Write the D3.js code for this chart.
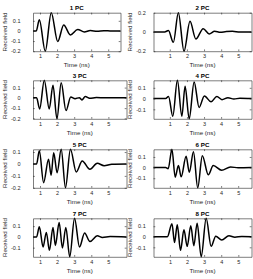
<!DOCTYPE html>
<html>
<head>
<meta charset="utf-8">
<script src="https://cdn.jsdelivr.net/npm/d3@7"></script>
<style>
  body { margin: 0; background: #fff; }
  svg { display: block; font-family: "Liberation Sans", Arial, sans-serif; }
</style>
</head>
<body>
<svg id="chart" width="253" height="279"></svg>
<script>
// panel titles and axis tick labels
const titles = ['1 PC', '2 PC', '3 PC', '4 PC', '5 PC', '6 PC', '7 PC', '8 PC'];
const xTicks = [1, 2, 3, 4, 5];
const yTicks = [
  [0.1, 0, -0.1, -0.2],
  [0.2, 0, -0.2],
  [0.1, 0, -0.1, -0.2],
  [0.1, 0, -0.1],
  [0.1, 0, -0.1, -0.2],
  [0.1, 0, -0.1],
  [0.1, 0, -0.1],
  [0.1, 0, -0.1]
];
// time window of each panel (ns)
const timeRanges = [
  [0.59, 5.72], [0.05, 5.77],
  [0.59, 6.06], [0.04, 5.78],
  [0.59, 6.06], [0.04, 5.78],
  [0.59, 6.06], [0.04, 5.77]
];

// received field (time in ns, field)
const pc1Time  = [0.59, 0.78, 0.96, 1.31, 1.66, 2.04, 2.39, 2.78, 3.21, 3.6, 3.95, 4.35, 4.75, 5.2, 5.72];
const pc1Field = [0, 0, 0.11, -0.2, 0.18, -0.105, 0.059, -0.039, 0.015, -0.01, 0.004, -0.003, 0.003, -0.001, 0];

const pc2Time  = [0.05, 0.7, 0.92, 1.21, 1.5, 1.83, 2.18, 2.52, 2.95, 3.3, 3.62, 3.95, 4.3, 4.65, 5.1, 5.77];
const pc2Field = [0, 0, 0.015, -0.108, 0.2, -0.2, 0.11, -0.073, 0.034, -0.02, 0.008, -0.004, 0.004, 0.006, 0, 0];

const pc3Time  = [0.59, 0.8, 0.98, 1.25, 1.54, 1.76, 1.99, 2.24, 2.52, 2.8, 3.05, 3.3, 3.45, 3.65, 3.9, 4.3, 4.8, 5.3, 6.06];
const pc3Field = [0, 0, -0.108, 0.171, -0.108, 0.124, -0.204, 0.146, -0.124, 0.008, -0.008, 0.002, -0.02, 0.012, -0.004, 0.003, 0, 0.002, 0];

const pc4Time  = [0.04, 0.75, 0.92, 1.17, 1.44, 1.7, 1.89, 2.13, 2.42, 2.71, 3.02, 3.41, 3.75, 4.05, 4.4, 4.75, 5.1, 5.78];
const pc4Field = [0, 0, 0.02, -0.164, 0.17, -0.164, 0.115, -0.188, 0.155, -0.082, 0.025, -0.03, 0.02, -0.01, 0.008, -0.004, 0.003, 0];

const pc5Time  = [0.59, 0.8, 0.96, 1.21, 1.5, 1.65, 1.8, 2.0, 2.24, 2.49, 2.78, 3.12, 3.47, 3.92, 4.35, 4.75, 5.2, 6.06];
const pc5Field = [0, 0, 0.11, -0.157, 0.04, -0.095, 0.095, -0.073, 0.123, -0.2, 0.123, -0.067, 0.025, -0.045, 0.006, -0.015, -0.002, 0];

const pc6Time  = [0.04, 0.75, 0.9, 1.12, 1.31, 1.5, 1.66, 1.95, 2.14, 2.38, 2.63, 2.9, 3.25, 3.54, 4.03, 4.55, 5.0, 5.78];
const pc6Field = [0, 0, -0.01, 0.172, -0.09, 0.019, -0.087, 0.106, -0.044, 0.15, -0.19, 0.112, -0.068, 0.019, -0.025, 0.006, -0.002, 0];

const pc7Time  = [0.59, 0.8, 0.96, 1.18, 1.37, 1.55, 1.76, 1.9, 2.12, 2.31, 2.51, 2.74, 3.02, 3.31, 3.61, 3.92, 4.35, 4.65, 5.1, 6.06];
const pc7Field = [0, 0, 0.094, -0.094, 0.042, -0.125, 0.088, -0.079, 0.133, -0.103, 0.088, -0.185, 0.173, -0.094, 0.036, -0.043, 0.01, -0.005, 0.003, 0];

const pc8Time  = [0.04, 0.85, 1.12, 1.27, 1.43, 1.62, 1.82, 2.01, 2.22, 2.4, 2.59, 2.83, 3.12, 3.41, 3.68, 4.03, 4.45, 4.8, 5.2, 5.77];
const pc8Field = [0, 0, 0.123, -0.054, 0.113, -0.129, 0.066, -0.091, 0.104, -0.085, 0.128, -0.19, 0.175, -0.091, 0.005, -0.03, 0.01, -0.004, 0.002, 0];

const times  = [pc1Time, pc2Time, pc3Time, pc4Time, pc5Time, pc6Time, pc7Time, pc8Time];
const fields = [pc1Field, pc2Field, pc3Field, pc4Field, pc5Field, pc6Field, pc7Field, pc8Field];

// layout: box edges per column / row
const colLeft = [33, 153.5];
const colRight = [126.5, 251.5];
const rowTop = [12.7, 80.3, 149.3, 218.3];
const boxH = 38.5;
const yLabelX = [4.5, 129.5];
const yTickGap = [12.5, 7.8];

const tickFont = 5.5;
const labelFont = 6.2;
const axisColor = '#262626';

const svg = d3.select('#chart');

titles.forEach((title, i) => {
  const col = i % 2, row = Math.floor(i / 2);
  const left = colLeft[col];
  const right = i === 0 ? 120.5 : colRight[col]; // first panel is narrower
  const top = rowTop[row];
  const bottom = top + boxH;

  const x = d3.scaleLinear().domain(timeRanges[i]).range([left, right]);
  const y = d3.scaleLinear().domain(d3.extent(fields[i])).range([bottom, top]);

  const g = svg.append('g');

  const line = d3.line()
    .x(d => x(d))
    .y((d, k) => y(fields[i][k]))
    .curve(d3.curveMonotoneX);

  g.append('path')
    .datum(times[i])
    .attr('fill', 'none')
    .attr('stroke', '#000')
    .attr('stroke-width', 1.5)
    .attr('stroke-linejoin', 'round')
    .attr('d', line);

  // axes, ticks pointing inward, box on all four sides
  const bottomAxis = g.append('g')
    .attr('transform', `translate(0,${bottom})`)
    .call(d3.axisBottom(x).tickValues(xTicks).tickFormat(d => String(d)).tickSizeInner(-1.8).tickSizeOuter(0).tickPadding(3.2));
  const leftAxis = g.append('g')
    .attr('transform', `translate(${left},0)`)
    .call(d3.axisLeft(y).tickValues(yTicks[i]).tickFormat(d => String(d)).tickSizeInner(-1.8).tickSizeOuter(0).tickPadding(yTickGap[col]));
  const topAxis = g.append('g')
    .attr('transform', `translate(0,${top})`)
    .call(d3.axisTop(x).tickValues(xTicks).tickFormat('').tickSizeInner(-1.8).tickSizeOuter(0));
  const rightAxis = g.append('g')
    .attr('transform', `translate(${right},0)`)
    .call(d3.axisRight(y).tickValues(yTicks[i]).tickFormat('').tickSizeInner(-1.8).tickSizeOuter(0));

  [bottomAxis, leftAxis, topAxis, rightAxis].forEach(a => {
    a.select('.domain').attr('stroke', axisColor).attr('stroke-width', 0.6);
    a.selectAll('.tick line').attr('stroke', axisColor).attr('stroke-width', 0.6);
    a.selectAll('text')
      .attr('fill', axisColor)
      .style('font-size', tickFont + 'px')
      .style('font-family', '"Liberation Sans", Arial, sans-serif');
  });

  g.append('text')
    .attr('x', (left + right) / 2)
    .attr('y', top - 4.8)
    .attr('dy', '0.35em')
    .attr('text-anchor', 'middle')
    .attr('font-weight', 'bold')
    .attr('fill', '#000')
    .style('font-size', labelFont + 'px')
    .text(title);

  g.append('text')
    .attr('x', (left + right) / 2)
    .attr('y', bottom + 14)
    .attr('dy', '0.35em')
    .attr('text-anchor', 'middle')
    .attr('fill', axisColor)
    .style('font-size', labelFont + 'px')
    .text('Time (ns)');

  g.append('text')
    .attr('transform', `translate(${yLabelX[col]},${(top + bottom) / 2}) rotate(-90)`)
    .attr('dy', '0.35em')
    .attr('text-anchor', 'middle')
    .attr('fill', axisColor)
    .style('font-size', labelFont + 'px')
    .text('Received field');
});
</script>
</body>
</html>
